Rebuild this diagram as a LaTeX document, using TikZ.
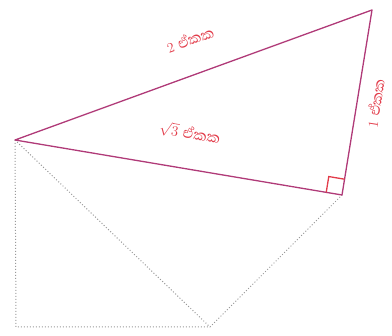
\documentclass[tikz,border=0pt]{standalone}
\usepackage{fontspec}
\newfontfamily\sinhfont[Script=Sinhala,Scale=1.35]{Abhaya Libre}
\usetikzlibrary{calc}
\definecolor{edge}{HTML}{B03A78}
\definecolor{lab}{HTML}{E23C4A}
\definecolor{dots}{HTML}{9A9A9A}
\begin{document}
\begin{tikzpicture}[x=1pt,y=-1pt,
  side/.style={draw=edge,line width=1.3pt,line join=round},
  guide/.style={draw=dots,line width=1pt,dotted},
  lbl/.style={text=lab,font=\fontsize{14}{16}\selectfont,inner sep=1pt}]
\useasboundingbox (0,0) rectangle (392,336);
\coordinate (A) at (15,140);
\coordinate (B) at (372,10);
\coordinate (C) at (342,195);
\coordinate (D) at (16,327);
\coordinate (E) at (210,327);
\draw[guide] (A) -- (D) -- (E) -- (C);
\draw[guide] (A) -- (E);
\draw[side] (A) -- (B) -- (C) -- cycle;
\coordinate (P) at ($(C)!16pt!(A)$);
\coordinate (Q) at ($(C)!16pt!(B)$);
\draw[draw=lab,line width=1.3pt] (P) -- ($(P)+(Q)-(C)$) -- (Q);
\node[lbl,rotate=20] (l2) at (190,39) {2 {\sinhfont ඒකක}};
\node[lbl,rotate=-9.5] (l3) at (190,133) {$\sqrt{3}$ {\sinhfont ඒකක}};
\node[lbl,rotate=81] (l1) at (375,103) {1 {\sinhfont ඒකක}};
\end{tikzpicture}
\end{document}
